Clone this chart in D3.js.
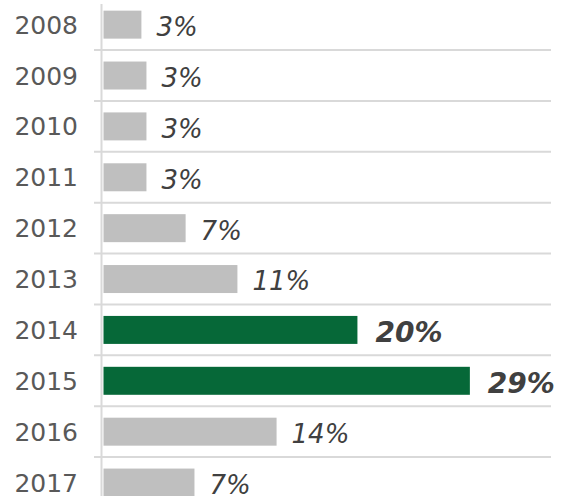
<!DOCTYPE html>
<html>
<head>
<meta charset="utf-8">
<script src="https://cdn.jsdelivr.net/npm/d3@7"></script>
<style>
  body { margin: 0; background: #fff; }
  svg { display: block; }
</style>
</head>
<body>
<div id="chart"></div>
<script>
const years = ["2008", "2009", "2010", "2011", "2012", "2013", "2014", "2015", "2016", "2017"];
const shares = [3.0, 3.4, 3.4, 3.4, 6.5, 10.6, 20.1, 29.0, 13.7, 7.2];
const labels = ["3%", "3%", "3%", "3%", "7%", "11%", "20%", "29%", "14%", "7%"];
const highlight = ["2014", "2015"];

const width = 569;
const height = 496;
const margin = { top: -0.8, left: 103.5, right: 18, bottom: -12 };

const svg = d3.select("#chart").append("svg")
  .attr("width", width)
  .attr("height", height);

const y = d3.scaleBand()
  .domain(years)
  .range([margin.top, height - margin.bottom])
  .padding(0);

const x = d3.scaleLinear()
  .domain([0, 30])
  .range([margin.left, margin.left + 379]);

const barH = y.bandwidth() * 0.55;

// row separators
svg.append("g")
  .selectAll("line")
  .data(years.slice(1))
  .join("line")
  .attr("x1", 94)
  .attr("x2", 551)
  .attr("y1", d => y(d))
  .attr("y2", d => y(d))
  .attr("stroke", "#d9d9d9")
  .attr("stroke-width", 2);

// vertical axis line
svg.append("line")
  .attr("x1", 101.5).attr("x2", 101.5)
  .attr("y1", 4).attr("y2", height)
  .attr("stroke", "#d9d9d9")
  .attr("stroke-width", 2);

// bars
svg.append("g")
  .selectAll("rect")
  .data(years)
  .join("rect")
  .attr("x", x(0))
  .attr("y", d => y(d) + (y.bandwidth() - barH) / 2)
  .attr("width", (d, i) => x(shares[i]) - x(0))
  .attr("height", barH)
  .attr("fill", d => highlight.includes(d) ? "#066838" : "#bfbfbf");

// year labels
svg.append("g")
  .selectAll("text")
  .data(years)
  .join("text")
  .attr("x", 78)
  .attr("y", d => y(d) + y.bandwidth() / 2)
  .attr("dy", "0.36em")
  .attr("text-anchor", "end")
  .attr("font-family", "DejaVu Sans, Verdana, sans-serif")
  .attr("font-size", 25)
  .attr("fill", "#595959")
  .text(d => d);

// value labels
svg.append("g")
  .selectAll("text")
  .data(years)
  .join("text")
  .attr("x", (d, i) => x(shares[i]) + (highlight.includes(d) ? 18 : 15))
  .attr("y", d => y(d) + y.bandwidth() / 2 + 2)
  .attr("dy", "0.36em")
  .attr("font-family", "DejaVu Sans, Verdana, sans-serif")
  .attr("font-style", "italic")
  .attr("font-weight", d => highlight.includes(d) ? "bold" : "normal")
  .attr("font-size", d => highlight.includes(d) ? 28 : 26)
  .attr("fill", "#404040")
  .text((d, i) => labels[i]);
</script>
</body>
</html>
